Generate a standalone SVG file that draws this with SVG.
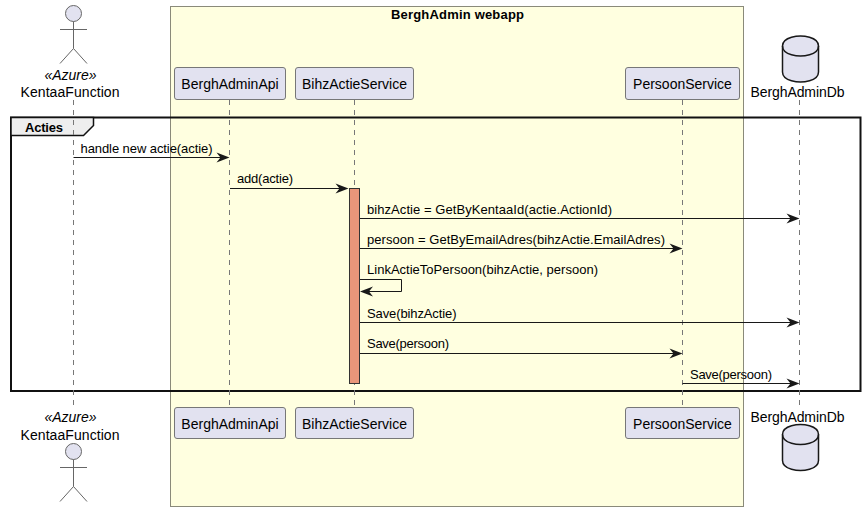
<svg xmlns="http://www.w3.org/2000/svg" width="865" height="511" viewBox="0 0 865 511">
<style>
text{font-family:"Liberation Sans",Arial,sans-serif;fill:#000}
.n{font-size:14px}
.c{text-anchor:middle}
.s{font-size:14px;font-style:italic}
.m{font-size:13px}
.b{font-weight:bold;font-size:13px}
.p{fill:#E2E2F0;stroke:#777;stroke-width:1}
.a{fill:#E2E2F0;stroke:#666;stroke-width:1}
.d{fill:#E2E2F0;stroke:#181818;stroke-width:1.5}
.l{stroke:#777;stroke-width:1;stroke-dasharray:5,5;fill:none}
.w{stroke:#181818;stroke-width:1;fill:none}
</style>
<defs>
<path id="ah" d="M0,0L-13,-5L-9,0L-13,5Z" fill="#181818"/>
<g id="actor"><circle cx="73.500" cy="0" r="8" class="a"/><path d="M73.500,8V35M60,16H87M60,50L73.500,35L87,50" fill="none" stroke="#666" stroke-width="1"/></g>
<path id="cyl" d="M782.500,46C782.500,36 800.500,36 800.500,36C800.500,36 818.500,36 818.500,46V72C818.500,82 800.500,82 800.500,82C800.500,82 782.500,82 782.500,72Z"/>
<path id="cylt" d="M782.500,46C782.500,56 800.500,56 800.500,56C800.500,56 818.500,56 818.500,46" fill="none"/>
</defs>
<g id="box-webapp">
<rect x="170.500" y="6.500" width="573" height="500" fill="#FFFFE0" stroke="#8A8A7A" stroke-width="1"/>
<text class="b" x="391" y="19" textLength="133">BerghAdmin webapp</text>
</g>
<g id="group-acties">
<rect x="11" y="117.500" width="849.500" height="273.500" fill="none" stroke="#111" stroke-width="2"/>
<path d="M11,117.500H93.500V125.500L83.500,135.500H11Z" fill="#EEEEEE" stroke="#111" stroke-width="1.500"/>
<text class="b" x="25" y="132" textLength="38">Acties</text>
</g>
<g id="lifelines">
<path class="l" d="M73.500,100V407"/>
<path class="l" d="M229.500,100V407"/>
<path class="l" d="M354.500,100V407"/>
<path class="l" d="M682.500,100V407"/>
<path class="l" d="M799.500,100V407"/>
</g>
<g id="node-kentaa-top">
<use href="#actor" y="13.500"/>
<text class="s c" x="70.500" y="80" textLength="52">«Azure»</text>
<text class="n c" x="70" y="97" textLength="99">KentaaFunction</text>
</g>
<g id="node-kentaa-bottom">
<text class="s c" x="70.500" y="422" textLength="52">«Azure»</text>
<text class="n c" x="70" y="440" textLength="99">KentaaFunction</text>
<use href="#actor" y="451.500"/>
</g>
<g id="node-api-top"><rect class="p" x="174.500" y="67.500" width="111" height="32" rx="2.500"/><text class="n c" x="230" y="89">BerghAdminApi</text></g>
<g id="node-api-bottom"><rect class="p" x="174.500" y="407.500" width="111" height="31" rx="2.500"/><text class="n c" x="230" y="429">BerghAdminApi</text></g>
<g id="node-bihz-top"><rect class="p" x="295.500" y="67.500" width="118" height="32" rx="2.500"/><text class="n c" x="354.500" y="89">BihzActieService</text></g>
<g id="node-bihz-bottom"><rect class="p" x="295.500" y="407.500" width="118" height="31" rx="2.500"/><text class="n c" x="354.500" y="429">BihzActieService</text></g>
<g id="node-persoon-top"><rect class="p" x="625.500" y="67.500" width="114" height="32" rx="2.500"/><text class="n c" x="682.500" y="89">PersoonService</text></g>
<g id="node-persoon-bottom"><rect class="p" x="625.500" y="407.500" width="114" height="31" rx="2.500"/><text class="n c" x="682.500" y="429">PersoonService</text></g>
<g id="node-db-top">
<use href="#cyl" class="d"/><use href="#cylt" stroke="#181818" stroke-width="1.500"/>
<text class="n c" x="797.500" y="97" textLength="94">BerghAdminDb</text>
</g>
<g id="node-db-bottom">
<text class="n c" x="797.500" y="422" textLength="94">BerghAdminDb</text>
<use href="#cyl" class="d" y="388.500"/><use href="#cylt" y="388.500" stroke="#181818" stroke-width="1.500"/>
</g>
<g id="activation"><rect x="349.500" y="188.500" width="10" height="195" fill="#E9967A" stroke="#333" stroke-width="1"/></g>
<g id="connectors">
<path class="w" d="M73.500,157.500H222"/><use href="#ah" x="229.500" y="157.500"/>
<path class="w" d="M230,188.500H342"/><use href="#ah" x="348.500" y="188.500"/>
<path class="w" d="M360,218.500H792"/><use href="#ah" x="799.500" y="218.500"/>
<path class="w" d="M360,248.500H675"/><use href="#ah" x="682.500" y="248.500"/>
<path class="w" d="M360,279.500H401.500V291.500H366"/><use href="#ah" transform="translate(360,291.500) scale(-1,1)"/>
<path class="w" d="M360,322.500H792"/><use href="#ah" x="799.500" y="322.500"/>
<path class="w" d="M360,353.500H675"/><use href="#ah" x="682.500" y="353.500"/>
<path class="w" d="M682.500,383.500H792"/><use href="#ah" x="799.500" y="383.500"/>
</g>
<g id="labels">
<text class="m" x="80.500" y="153" textLength="132">handle new actie(actie)</text>
<text class="m" x="237" y="183" textLength="56">add(actie)</text>
<text class="m" x="367" y="214" textLength="245">bihzActie = GetByKentaaId(actie.ActionId)</text>
<text class="m" x="367" y="244" textLength="298">persoon = GetByEmailAdres(bihzActie.EmailAdres)</text>
<text class="m" x="367" y="274" textLength="231">LinkActieToPersoon(bihzActie, persoon)</text>
<text class="m" x="367" y="318" textLength="89.500">Save(bihzActie)</text>
<text class="m" x="367" y="348" textLength="82">Save(persoon)</text>
<text class="m" x="690" y="379" textLength="82">Save(persoon)</text>
</g>
</svg>
